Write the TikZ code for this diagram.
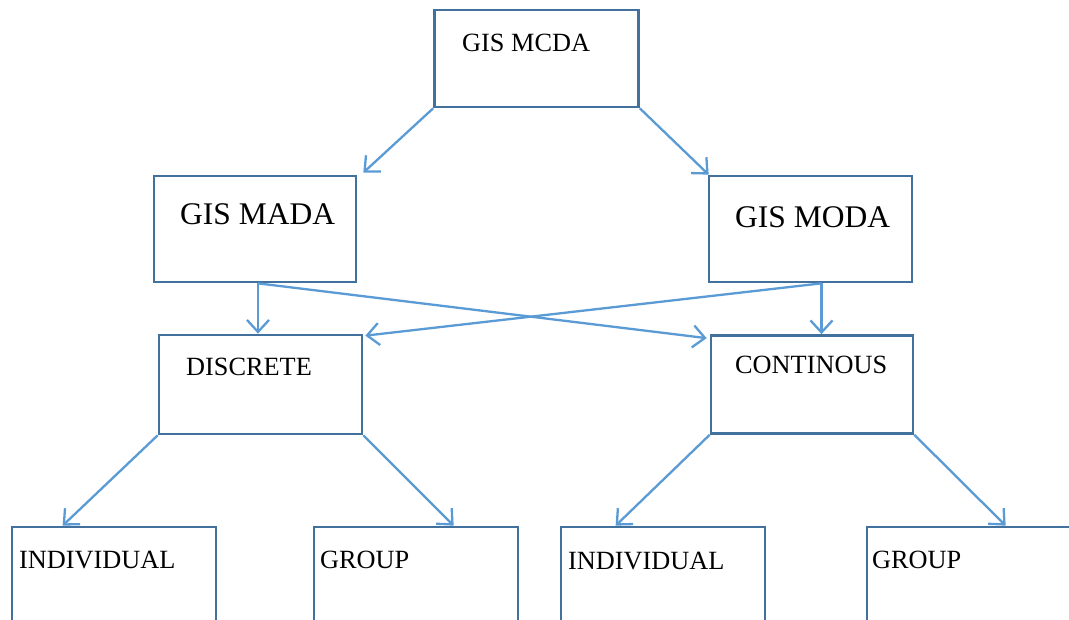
\documentclass[tikz,border=0pt]{standalone}
\usepackage{fontspec}
\setmainfont{Liberation Serif}
\usetikzlibrary{arrows.meta}
\definecolor{boxc}{RGB}{65,113,156}
\definecolor{arrc}{RGB}{91,155,213}
\tikzset{
  box/.style={draw=boxc, line width=2.7pt, fill=none, inner sep=0pt},
  txt/.style={anchor=base west, inner sep=0pt, font=\fontsize{26.3}{30}\selectfont},
  bigtxt/.style={anchor=base west, inner sep=0pt, font=\fontsize{31.5}{36}\selectfont},
  arr/.style={draw=arrc, line width=2.3pt, -{Straight Barb[length=12pt,width=22pt,line width=2.3pt]}}
}
\begin{document}
\begin{tikzpicture}[x=1pt,y=-1pt]
\fill[white] (0,0) rectangle (1069,620);
\useasboundingbox (0,0) rectangle (1069,620);
\clip (0,0) rectangle (1069,620);
% boxes
\node[box, minimum width=204, minimum height=97] (mcda) at (536.5,58.5) {};
\node[box, minimum width=202, minimum height=106] (mada) at (255,229) {};
\node[box, minimum width=203, minimum height=106] (moda) at (810.5,229) {};
\node[box, minimum width=203, minimum height=99] (disc) at (260.5,384.5) {};
\node[box, minimum width=202, minimum height=98] (cont) at (812,384.5) {};
\node[box, minimum width=204, minimum height=200] (ind1) at (114,627) {};
\node[box, minimum width=204, minimum height=200] (grp1) at (416,627) {};
\node[box, minimum width=204, minimum height=200] (ind2) at (663,627) {};
\node[box, minimum width=204, minimum height=200] (grp2) at (969,627) {};
% texts
\node[txt] (mcdaT) at (462,52) {GIS MCDA};
\node[bigtxt] (madaT) at (180,225) {GIS MADA};
\node[bigtxt] (modaT) at (735,228) {GIS MODA};
\node[txt] (discT) at (186,376) {DISCRETE};
\node[txt] (contT) at (735,374) {CONTINOUS};
\node[txt] (ind1T) at (19,568) {INDIVIDUAL};
\node[txt] (grp1T) at (320,568) {GROUP};
\node[txt] (ind2T) at (568,569) {INDIVIDUAL};
\node[txt] (grp2T) at (872,568) {GROUP};
% connectors
\coordinate (madaS) at ([xshift=3pt]mada.south);
\coordinate (modaS) at ([xshift=11pt]moda.south);
\draw[arr] (mcda.south west) -- ([xshift=6pt,yshift=2pt]mada.north east);
\draw[arr] (mcda.south east) -- ([xshift=1pt]moda.north west);
\draw[arr] (madaS) -- (madaS |- disc.north);
\draw[arr] (madaS) -- ([xshift=-3pt,yshift=-4pt]cont.north west);
\draw[arr] (modaS) -- ([xshift=2pt,yshift=-2pt]disc.north east);
\draw[arr] (modaS) -- (modaS |- cont.north);
\draw[arr] (disc.south west) -- ([xshift=52pt]ind1.north west);
\draw[arr] (disc.south east) -- ([xshift=141pt]grp1.north west);
\draw[arr] (cont.south west) -- ([xshift=56pt]ind2.north west);
\draw[arr] (cont.south east) -- ([xshift=140pt]grp2.north west);
\end{tikzpicture}
\end{document}
